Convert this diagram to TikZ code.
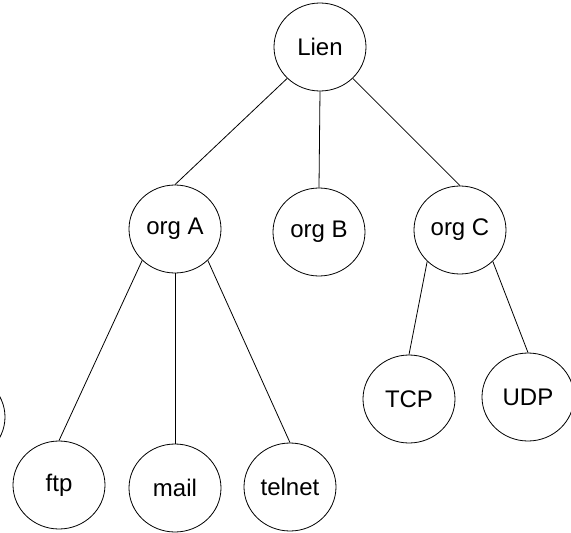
\documentclass[tikz,border=0pt]{standalone}
\usepackage{fontspec}
\setmainfont{Liberation Sans}
\usetikzlibrary{shapes.geometric}
\begin{document}
\begin{tikzpicture}[x=1pt,y=-1pt,
  tn/.style={ellipse, draw, line width=0.8pt, minimum width=92pt, minimum height=88pt, inner sep=0pt, font=\fontsize{24}{28}\selectfont},
  edge/.style={line width=0.8pt}]
\clip (0,0) rectangle (571,533);
\node[tn] (lien) at (320,47) {Lien};
\node[tn] (orgA) at (175,229) {org A};
\node[tn] (orgB) at (319,232) {org B};
\node[tn] (orgC) at (460,230) {org C};
\node[tn] (tcp) at (409,399) {TCP};
\node[tn] (udp) at (528,397) {UDP};
\node[tn] (ftp) at (59,485) {ftp};
\node[tn] (mail) at (175,488) {mail};
\node[tn] (telnet) at (290,487) {telnet};
\node[tn] (part) at (-41,417) {};
\draw[edge] (lien.south west) -- (orgA.north);
\draw[edge] (lien.south) -- (orgB.north);
\draw[edge] (lien.south east) -- (orgC.north);
\draw[edge] (orgA.south west) -- (ftp.north);
\draw[edge] (orgA.south) -- (mail.north);
\draw[edge] (orgA.south east) -- (telnet.north);
\draw[edge] (orgC.south west) -- (tcp.north);
\draw[edge] (orgC.south east) -- (udp.north);
\end{tikzpicture}
\end{document}
